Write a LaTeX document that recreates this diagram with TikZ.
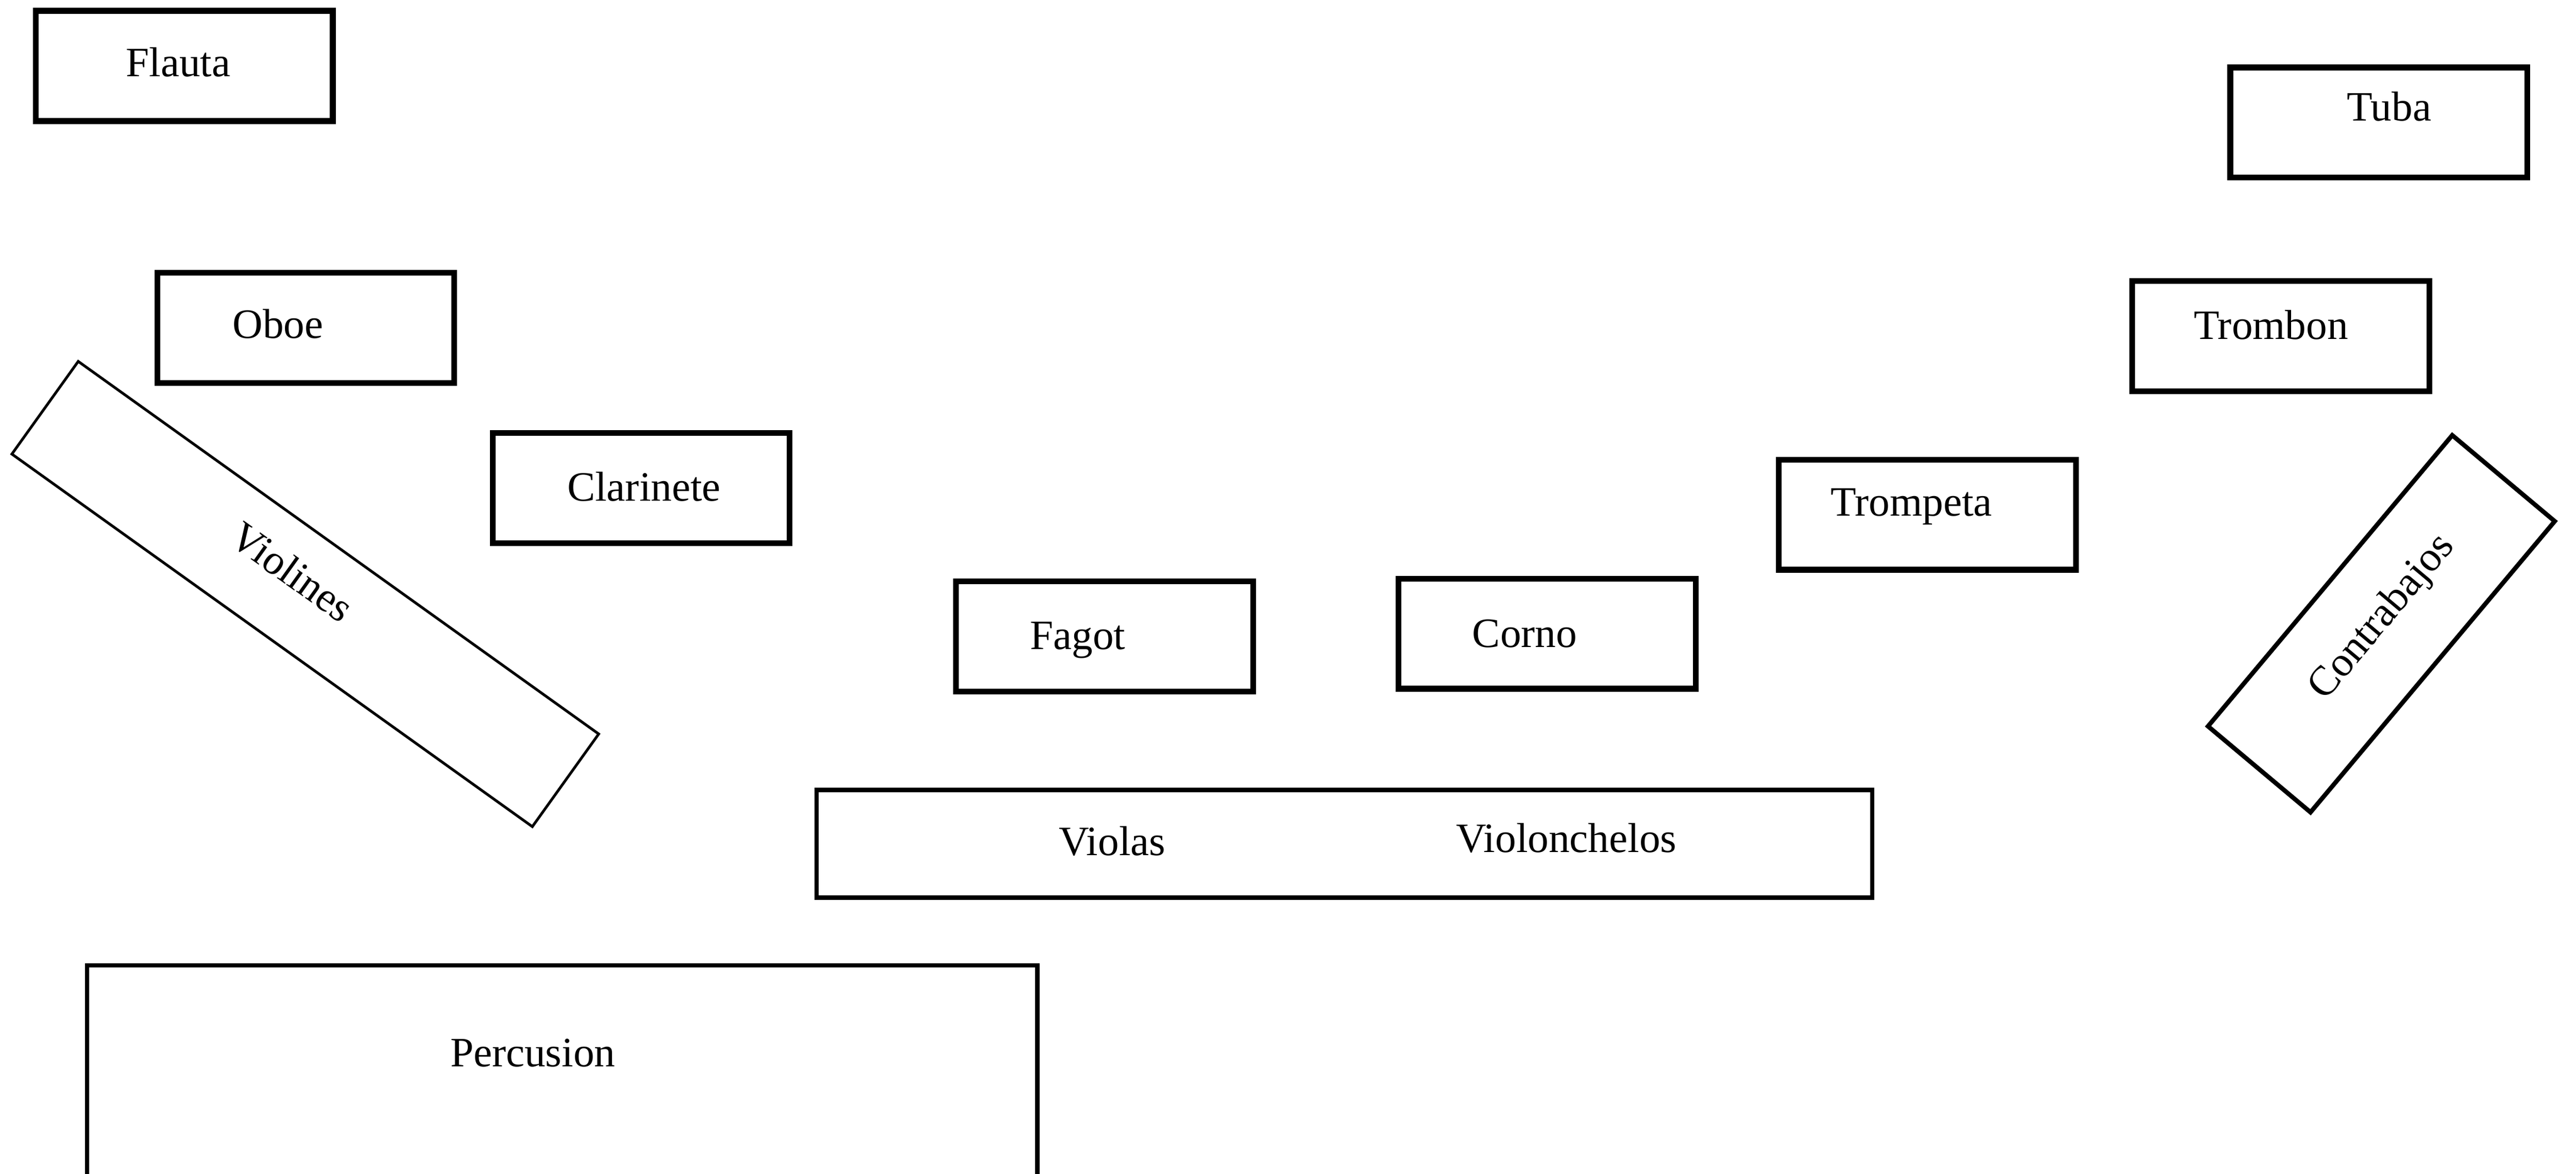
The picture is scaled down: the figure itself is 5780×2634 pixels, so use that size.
\documentclass[tikz,border=0pt]{standalone}
\usepackage{fontspec}
\setmainfont{Liberation Serif}
\begin{document}
\begin{tikzpicture}[x=0.01cm,y=-0.01cm,
  wind/.style={draw=black, line width=0.13cm, inner sep=0pt, minimum width=6.66cm, minimum height=2.47cm},
  strbox/.style={draw=black, line width=0.095cm, inner sep=0pt},
  lbl/.style={inner sep=0pt, anchor=base, font=\fontsize{26.7pt}{32pt}\selectfont},
  rlbl/.style={inner sep=0pt, anchor=center, font=\fontsize{26.7pt}{32pt}\selectfont}]
\clip (0,0) rectangle (5780,2634);
\fill[white] (0,0) rectangle (5780,2634);
% woodwinds and brass
\node[wind] (flautabox) at (413.5,148) {};
\node[lbl] (flauta) at (400,172) {Flauta};
\node[wind] (oboebox) at (686,735.5) {};
\node[lbl] (oboe) at (623.5,759) {Oboe};
\node[wind] (clarinetebox) at (1438.5,1095) {};
\node[lbl] (clarinete) at (1445,1124) {Clarinete};
\node[wind] (fagotbox) at (2478.5,1428) {};
\node[lbl] (fagot) at (2418,1457) {Fagot};
\node[wind] (cornobox) at (3471.5,1422) {};
\node[lbl] (corno) at (3421,1452) {Corno};
\node[wind] (trompetabox) at (4324.5,1155) {};
\node[lbl] (trompeta) at (4289,1158) {Trompeta};
\node[wind] (trombonbox) at (5117.5,754.5) {};
\node[lbl] (trombon) at (5095.5,761) {Trombon};
\node[wind] (tubabox) at (5337.5,275) {};
\node[lbl] (tuba) at (5360.5,271) {Tuba};
% strings
\node[strbox, line width=0.06cm, minimum width=14.355cm, minimum height=2.556cm, rotate=-35.6] (violinesbox) at (685,1333) {};
\node[rlbl, rotate=-35.6] (violines) at (656,1283) {Violines};
\node[strbox, minimum width=23.675cm, minimum height=2.415cm] (violasbox) at (3016.5,1893.5) {};
\node[lbl] (violas) at (2495.5,1920) {Violas};
\node[lbl] (violonchelos) at (3514.5,1913) {Violonchelos};
\node[strbox, line width=0.1cm, minimum width=8.52cm, minimum height=3.0cm, rotate=50] (contrabajosbox) at (5343.25,1399.75) {};
\node[rlbl, rotate=50] (contrabajos) at (5346,1386) {Contrabajos};
% percussion
\node[strbox, minimum width=21.31cm, minimum height=7.33cm] (percusionbox) at (1261.5,2533.4) {};
\node[lbl] (percusion) at (1195.5,2393) {Percusion};
\end{tikzpicture}
\end{document}
